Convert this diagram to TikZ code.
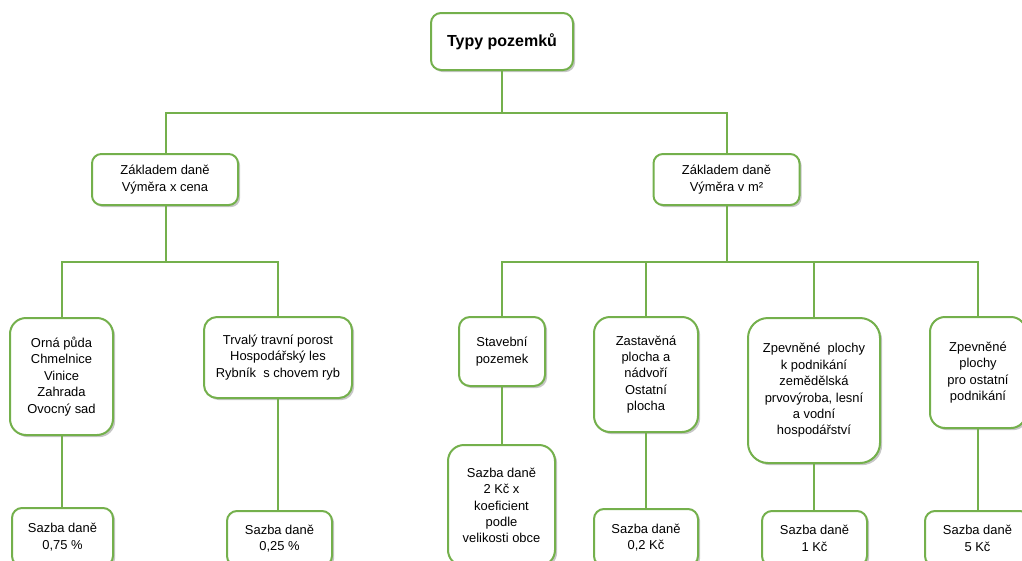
\documentclass[tikz,border=0pt]{standalone}
\usepackage{fontspec}
\setmainfont{Liberation Sans}
\usetikzlibrary{shadows}
\definecolor{grn}{HTML}{74B04C}
\tikzset{
  box/.style={draw=grn, line width=1.5pt, fill=white, align=center, inner sep=0pt,
    font=\fontsize{9.7}{12.3}\selectfont,
    drop shadow={shadow xshift=1.6pt, shadow yshift=-1.6pt, fill=black!28, opacity=0.8}},
  conn/.style={draw=grn, line width=1.5pt}
}
\begin{document}
\begin{tikzpicture}[x=0.75pt,y=-0.75pt]
\useasboundingbox (0,0) rectangle (1022,561);
\clip (0,0) rectangle (1022,561);
% level 0
\node[box, rounded corners=7.5pt, minimum width=106.5pt, minimum height=42.75pt,
  font=\fontsize{12}{14}\selectfont\bfseries] (root) at (502,41.5) {Typy pozemků};
% level 1
\node[box, rounded corners=7pt, minimum width=109.5pt, minimum height=38.25pt] (ml) at (165,179.5) {Základem daně\\Výměra x cena};
\node[box, rounded corners=7pt, minimum width=109.5pt, minimum height=38.25pt] (mr) at (726.5,179.5) {Základem daně\\Výměra v m²};
% level 2
\node[box, rounded corners=12pt, minimum width=77.25pt, minimum height=87.75pt] (orna) at (61.5,376.5) {Orná půda\\Chmelnice\\Vinice\\Zahrada\\Ovocný sad};
\node[box, rounded corners=9.75pt, minimum width=111pt, minimum height=60.75pt] (trv) at (278,357.5) {Trvalý travní porost\\Hospodářský les\\Rybník\ \ s chovem ryb};
\node[box, rounded corners=8.25pt, minimum width=64.5pt, minimum height=51.75pt] (stav) at (502,351.5) {Stavební\\pozemek};
\node[box, rounded corners=12pt, minimum width=78pt, minimum height=86.25pt] (zast) at (646,374.5) {Zastavěná\\plocha a\\nádvoří\\Ostatní\\plocha};
\node[box, rounded corners=15pt, minimum width=99pt, minimum height=108.75pt] (zp1) at (814,390.5) {Zpevněné\ \ plochy\\k podnikání\\zemědělská\\prvovýroba, lesní\\a vodní\\hospodářství};
\node[box, rounded corners=11.25pt, minimum width=72pt, minimum height=83.25pt] (zp2) at (978,372.5) {Zpevněné\\plochy\\pro ostatní\\podnikání};
% level 3
\node[box, rounded corners=7.5pt, minimum width=75.75pt, minimum height=43.5pt] (s1) at (62.5,537) {Sazba daně\\0,75 \%};
\node[box, rounded corners=7.5pt, minimum width=78.75pt, minimum height=41.25pt] (s2) at (279.5,538.5) {Sazba daně\\0,25 \%};
\node[box, rounded corners=12pt, minimum width=80.25pt, minimum height=90.75pt] (s3) at (501.5,505.5) {Sazba daně\\2 Kč x\\koeficient\\podle\\velikosti obce};
\node[box, rounded corners=7.5pt, minimum width=78pt, minimum height=42.75pt] (s4) at (646,537.5) {Sazba daně\\0,2 Kč};
\node[box, rounded corners=7.5pt, minimum width=78.75pt, minimum height=41.25pt] (s5) at (814.5,538.5) {Sazba daně\\1 Kč};
\node[box, rounded corners=7.5pt, minimum width=78.75pt, minimum height=41.25pt] (s6) at (977.5,538.5) {Sazba daně\\5 Kč};
% junctions
\coordinate (j0) at (502,113);
\coordinate (jl) at (166,262);
\coordinate (jr) at (727,262);
% connectors
\draw[conn] (root.south) -- (j0);
\draw[conn] (ml.north -| jl) |- (j0) -| (mr.north -| jr);
\draw[conn] (ml.south -| jl) -- (jl);
\draw[conn] (mr.south -| jr) -- (jr);
\draw[conn] (orna.north) |- (jl) -| (trv.north);
\draw[conn] (stav.north) |- (jr) -| (zp2.north);
\draw[conn] (zast.north) -- (zast.north |- jr);
\draw[conn] (zp1.north) -- (zp1.north |- jr);
\draw[conn] (orna.south) -- (orna.south |- s1.north);
\draw[conn] (trv.south) -- (trv.south |- s2.north);
\draw[conn] (stav.south) -- (stav.south |- s3.north);
\draw[conn] (zast.south) -- (zast.south |- s4.north);
\draw[conn] (zp1.south) -- (zp1.south |- s5.north);
\draw[conn] (zp2.south) -- (zp2.south |- s6.north);
\end{tikzpicture}
\end{document}
